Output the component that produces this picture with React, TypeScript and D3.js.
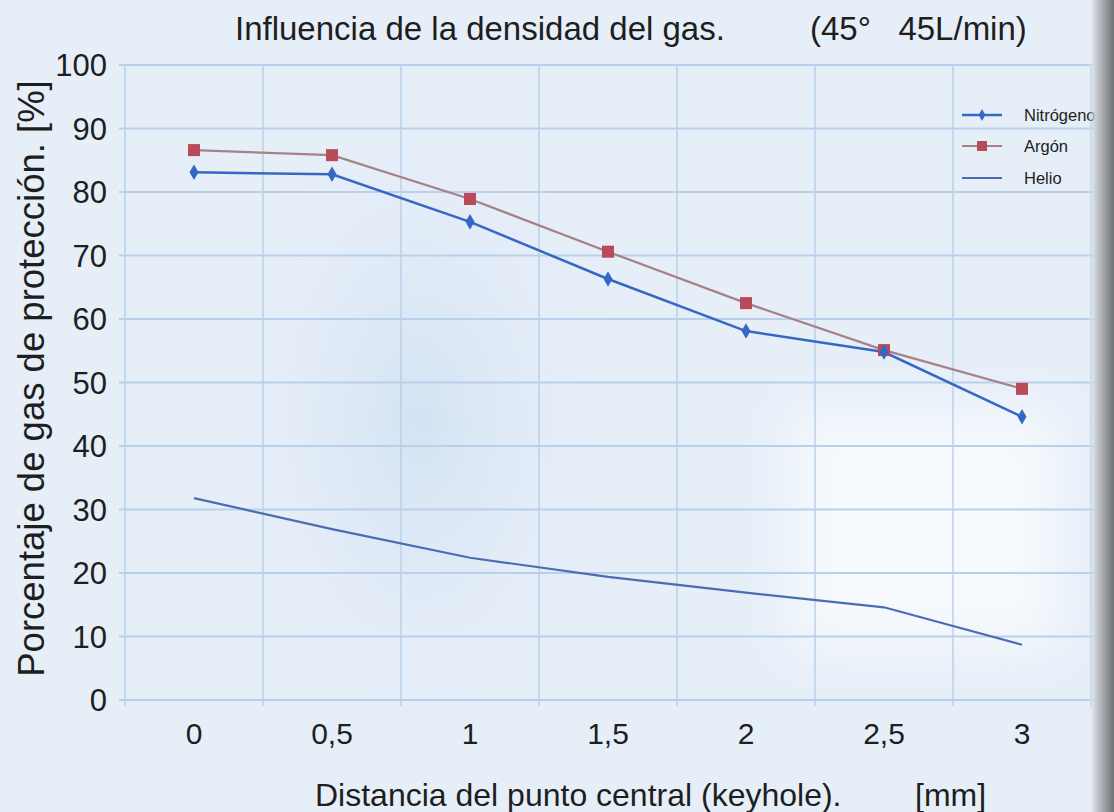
import React from "react";
import * as d3 from "d3";

const categories = ["0", "0,5", "1", "1,5", "2", "2,5", "3"];
const nitrogeno = [83.1, 82.8, 75.3, 66.3, 58.1, 54.8, 44.6];
const argon = [86.6, 85.8, 78.9, 70.6, 62.5, 55.1, 49.0];
const helio = [31.8, 26.9, 22.4, 19.4, 16.9, 14.6, 8.7];
const yTicks = [0, 10, 20, 30, 40, 50, 60, 70, 80, 90, 100];
const legendNames = ["Nitrógeno", "Argón", "Helio"];

const W = 1114;
const H = 812;
const left = 125;
const right = 1091;
const top = 65;
const bottom = 700;

export default function App() {
  const x = d3.scaleBand<string>().domain(categories).range([left, right]).paddingInner(0).paddingOuter(0);
  const y = d3.scaleLinear().domain([0, 100]).range([bottom, top]);
  const cx = (i: number) => (x(categories[i]) as number) + x.bandwidth() / 2;
  const line = d3
    .line<number>()
    .x((_, i) => cx(i))
    .y((d) => y(d));

  const font = "'Liberation Sans', Arial, sans-serif";
  const gridColor = "#b9d0ea";
  const nColor = "#3568c4";
  const aLine = "#a88088";
  const aMark = "#b84a5a";
  const hColor = "#4a6cb4";
  const textColor = "#1e1e1e";

  const diamond = d3.symbol().type(d3.symbolDiamond).size(70)() as string;

  const vLines = categories.map((c) => x(c) as number).concat([right]);

  return (
    <svg width={W} height={H} style={{ position: "absolute", left: 0, top: 0, display: "block" }}>
      <defs>
        <linearGradient id="edge" x1="0" x2="1" y1="0" y2="0">
          <stop offset="0" stopColor="#e6eef8" stopOpacity="0" />
          <stop offset="0.3" stopColor="#c9ccd2" />
          <stop offset="1" stopColor="#6f7176" />
        </linearGradient>
        <radialGradient id="blot" cx="0.5" cy="0.5" r="0.5">
          <stop offset="0" stopColor="#d3e2f3" />
          <stop offset="1" stopColor="#e4edf8" stopOpacity="0" />
        </radialGradient>
        <filter id="soft" x="-20%" y="-20%" width="140%" height="140%">
          <feGaussianBlur stdDeviation="25" />
        </filter>
      </defs>
      <rect x={0} y={0} width={W} height={H} fill="#e6eef8" />
      <ellipse cx={420} cy={420} rx={200} ry={340} fill="url(#blot)" />
      <rect x={790} y={410} width={270} height={240} fill="#f6f9fd" filter="url(#soft)" />

      {/* grid */}
      {yTicks.map((t) => (
        <line key={"h" + t} x1={left - 6} x2={right + 10} y1={y(t)} y2={y(t)} stroke={gridColor} strokeWidth={2} />
      ))}
      {vLines.map((vx, i) => (
        <line key={"v" + i} x1={vx} x2={vx} y1={top} y2={bottom + 6} stroke={gridColor} strokeWidth={1.5} />
      ))}

      {/* y tick labels */}
      {yTicks.map((t) => (
        <text key={"yt" + t} x={107} y={y(t)} dy="0.36em" textAnchor="end" fontFamily={font} fontSize={31} fill={textColor}>
          {t}
        </text>
      ))}
      {/* x tick labels */}
      {categories.map((c, i) => (
        <text key={"xt" + c} x={cx(i)} y={744} textAnchor="middle" fontFamily={font} fontSize={30} fill={textColor}>
          {c}
        </text>
      ))}

      {/* series */}
      <path d={line(helio) as string} fill="none" stroke={hColor} strokeWidth={2.2} />
      <path d={line(argon) as string} fill="none" stroke={aLine} strokeWidth={2.2} />
      <path d={line(nitrogeno) as string} fill="none" stroke={nColor} strokeWidth={2.5} />
      {argon.map((v, i) => (
        <rect key={"a" + i} x={cx(i) - 6} y={y(v) - 6} width={12} height={12} fill={aMark} />
      ))}
      {nitrogeno.map((v, i) => (
        <path key={"n" + i} d={diamond} transform={`translate(${cx(i)},${y(v)})`} fill={nColor} />
      ))}

      {/* legend */}
      <g fontFamily={font} fontSize={16.5} fill={textColor}>
        <line x1={962} x2={1002} y1={115} y2={115} stroke={nColor} strokeWidth={2.5} />
        <path d={d3.symbol().type(d3.symbolDiamond).size(40)() as string} transform="translate(982,115)" fill={nColor} />
        <text x={1024} y={115} dy="0.35em">{legendNames[0]}</text>
        <line x1={962} x2={1002} y1={146} y2={146} stroke={aLine} strokeWidth={2.2} />
        <rect x={977} y={141} width={10} height={10} fill={aMark} />
        <text x={1024} y={146} dy="0.35em">{legendNames[1]}</text>
        <line x1={962} x2={1002} y1={178} y2={178} stroke={hColor} strokeWidth={2.2} />
        <text x={1024} y={178} dy="0.35em">{legendNames[2]}</text>
      </g>

      {/* titles */}
      <text x={235} y={40} fontFamily={font} fontSize={33} fill={textColor}>
        Influencia de la densidad del gas.
      </text>
      <text x={810} y={40} fontFamily={font} fontSize={33} fill={textColor} xmlSpace="preserve">
        (45°   45L/min)
      </text>
      <text
        transform={`translate(44,${(62 + 695) / 2}) rotate(-90)`}
        textAnchor="middle"
        fontFamily={font}
        fontSize={36.5}
        fill={textColor}
      >
        Porcentaje de gas de protección. [%]
      </text>
      <text x={315} y={806} fontFamily={font} fontSize={32} fill={textColor}>
        Distancia del punto central (keyhole).
      </text>
      <text x={915} y={806} fontFamily={font} fontSize={32} fill={textColor}>
        [mm]
      </text>

      <rect x={1088} y={0} width={26} height={H} fill="url(#edge)" />
    </svg>
  );
}
